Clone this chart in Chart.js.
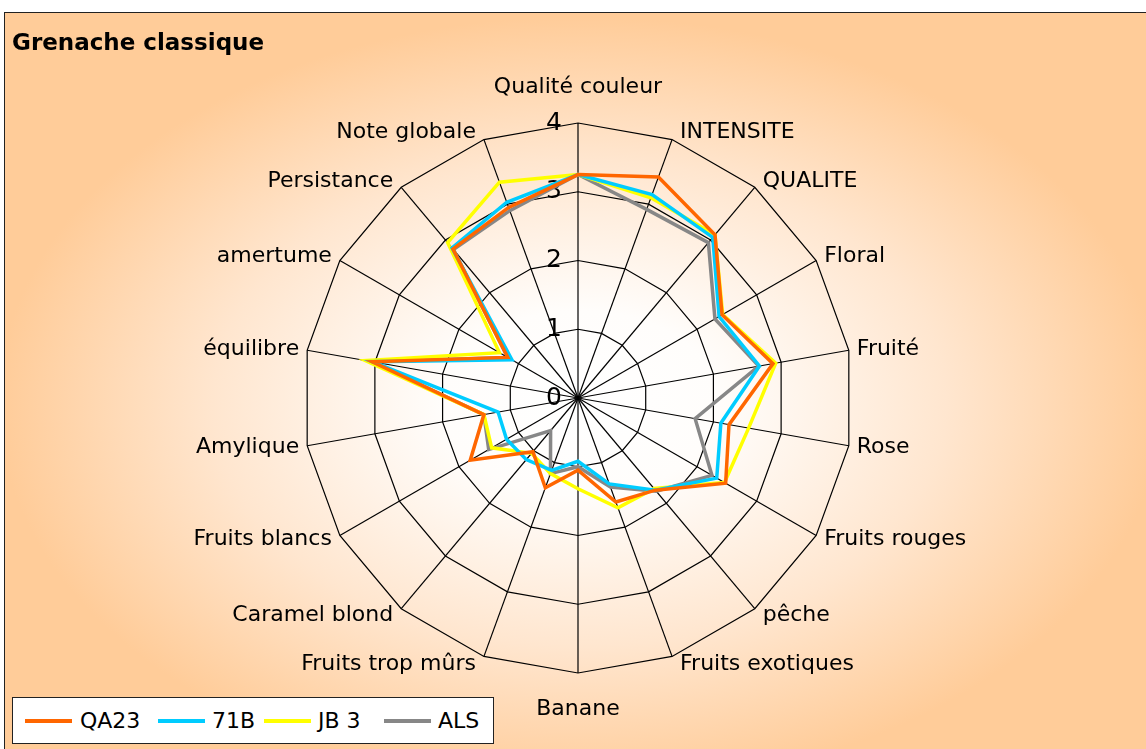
<!DOCTYPE html>
<html>
<head>
<meta charset="utf-8">
<script src="https://cdn.jsdelivr.net/npm/chart.js@4.4.0/dist/chart.umd.min.js"></script>
<style>
  html, body { margin: 0; padding: 0; width: 1146px; height: 749px; overflow: hidden; background: #fff; }
  #frame {
    position: absolute; left: 4px; top: 12px; width: 1150px; height: 750px;
    border: 1.5px solid #222;
    background: radial-gradient(ellipse 55% 56% at 50% 52%, #ffffff 0%, #fffdfb 22%, #ffe6cf 58%, #ffcc99 92%);
  }
  #chart { position: absolute; left: 0; top: 0; }
  #title {
    position: absolute; left: 12px; top: 29px;
    font: bold 23px "Comic Sans MS", "DejaVu Sans", sans-serif; color: #000;
  }
  #legend {
    position: absolute; left: 12px; top: 697px; width: 482px; height: 47px; box-sizing: border-box;
    border: 1px solid #222; background: #fff;
    font: 22px "Comic Sans MS", "DejaVu Sans", sans-serif; color: #000;
  }
  .item { position: absolute; top: 0; height: 45px; line-height: 45px; white-space: nowrap; }
  .swatch { position: absolute; top: 21px; width: 47px; height: 4px; }
</style>
</head>
<body>
<div id="frame"></div>
<canvas id="chart" width="1146" height="749"></canvas>
<div id="title">Grenache classique</div>
<div id="legend"></div>
<script>
const FONT = '"Comic Sans MS", "DejaVu Sans", sans-serif';

const categories = ['Qualité couleur', 'INTENSITE', 'QUALITE', 'Floral', 'Fruité', 'Rose',
  'Fruits rouges', 'pêche', 'Fruits exotiques', 'Banane', 'Fruits trop mûrs', 'Caramel blond',
  'Fruits blancs', 'Amylique', 'équilibre', 'amertume', 'Persistance', 'Note globale'];

const qa23 = [3.25, 3.42, 3.10, 2.42, 2.88, 2.23, 2.48, 1.75, 1.61, 1.05, 1.39, 1.02, 1.81, 1.39, 3.04, 1.18, 2.83, 2.95];
const b71  = [3.25, 3.15, 3.05, 2.37, 2.68, 2.11, 2.33, 1.75, 1.33, 0.92, 1.12, 1.17, 1.20, 1.18, 3.04, 1.11, 2.85, 3.03];
const jb3  = [3.25, 3.10, 3.10, 2.43, 2.92, 2.52, 2.46, 1.72, 1.70, 1.32, 1.17, 1.05, 1.45, 1.39, 3.14, 1.32, 2.95, 3.34];
const als  = [3.25, 2.92, 2.95, 2.30, 2.67, 1.73, 2.25, 1.77, 1.38, 1.00, 1.17, 0.62, 1.50, 1.39, 3.04, 1.18, 2.82, 2.90];

const seriesNames = ['QA23', '71B', 'JB 3', 'ALS'];
const seriesColors = ['#ff6600', '#00ccff', '#ffff00', '#878787'];
const tickLabels = [0, 1, 2, 3, 4];

// axis labels + tick numbers placed the way Excel does it
const excelLabels = {
  id: 'excelLabels',
  beforeDatasetsDraw(chart) {
    const r = chart.scales.r;
    const ctx = chart.ctx;
    const n = categories.length;
    ctx.save();
    ctx.fillStyle = '#000';
    ctx.textBaseline = 'middle';
    ctx.font = '22px ' + FONT;
    categories.forEach((label, i) => {
      const a = i * 2 * Math.PI / n;
      const s = Math.sin(a), c = Math.cos(a);
      const end = r.getPointPosition(i, r.drawingArea);
      let x = end.x, y = end.y - 8 * c;
      if (Math.abs(s) < 0.01) {
        ctx.textAlign = 'center';
        y = end.y - 36 * c;
      } else if (s > 0) {
        ctx.textAlign = 'left';
        x += 8;
      } else {
        ctx.textAlign = 'right';
        x -= 8;
      }
      ctx.fillText(label, x, y);
    });
    ctx.font = '25px ' + FONT;
    ctx.textAlign = 'center';
    tickLabels.forEach(v => {
      const d = r.getDistanceFromCenterForValue(v);
      ctx.fillText(String(v), r.xCenter - 24, r.yCenter - d);
    });
    ctx.restore();
  }
};

const data = [qa23, b71, jb3, als];

new Chart(document.getElementById('chart'), {
  type: 'radar',
  data: {
    labels: categories,
    datasets: data.map((vals, i) => ({
      label: seriesNames[i],
      data: vals,
      borderColor: seriesColors[i],
      backgroundColor: 'transparent',
      borderWidth: 3.5,
      fill: false,
      pointRadius: 0,
      pointHoverRadius: 0
    }))
  },
  options: {
    responsive: false,
    animation: false,
    layout: { padding: { left: 303, right: 293, top: 123, bottom: 76 } },
    plugins: { legend: { display: false }, tooltip: { enabled: false } },
    elements: { line: { tension: 0 } },
    scales: {
      r: {
        min: 0,
        max: 4,
        ticks: { display: false, stepSize: 1 },
        grid: { color: '#000', lineWidth: 1.2, circular: false },
        angleLines: { color: '#000', lineWidth: 1.2 },
        pointLabels: { display: false }
      }
    }
  },
  plugins: [excelLabels]
});

// legend
const legendPos = [[12, 67], [145, 199], [251, 305], [371, 425]];
const legend = document.getElementById('legend');
seriesNames.forEach((name, i) => {
  const sw = document.createElement('div');
  sw.className = 'swatch';
  sw.style.left = legendPos[i][0] + 'px';
  sw.style.background = seriesColors[i];
  legend.appendChild(sw);
  const t = document.createElement('div');
  t.className = 'item';
  t.style.left = legendPos[i][1] + 'px';
  t.textContent = name;
  legend.appendChild(t);
});
</script>
</body>
</html>
